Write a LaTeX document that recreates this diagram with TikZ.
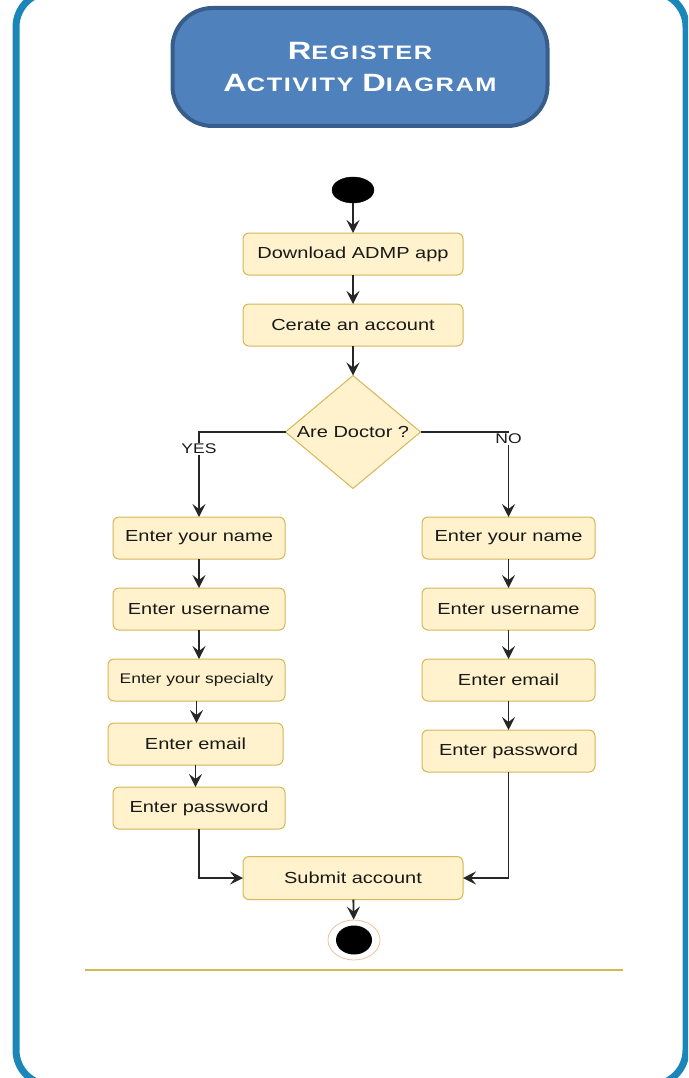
\documentclass[tikz,border=0pt]{standalone}
\usepackage{fontspec}
\setmainfont{Liberation Sans}[FakeStretch=1.25]
\newfontfamily\titlefont{Liberation Sans}[FakeStretch=1.3, LetterSpace=8]
\usetikzlibrary{shapes.geometric,arrows.meta}

\definecolor{framec}{HTML}{1B87B8}
\definecolor{titlefill}{HTML}{4F81BD}
\definecolor{titledraw}{HTML}{385D8A}
\definecolor{actfill}{HTML}{FFF2CC}
\definecolor{actdraw}{HTML}{D6B656}
\definecolor{ringc}{HTML}{F0C0A0}

\newcommand\capword[2]{{\fontsize{25}{32}\selectfont #1}{\fontsize{19.5}{32}\selectfont #2}}

\tikzset{
  act/.style={draw=actdraw, fill=actfill, rounded corners=6pt, line width=1pt,
    minimum width=172pt, minimum height=42pt, inner sep=0pt, outer sep=0pt,
    text=black!90, font=\fontsize{16}{19}\selectfont},
  decision/.style={draw=actdraw, fill=actfill, diamond, aspect=1.25, line width=1pt,
    minimum width=135pt, minimum height=113pt, inner sep=0pt, outer sep=0pt,
    text=black!90, font=\fontsize{16}{19}\selectfont},
  flow/.style={draw=black!85, line width=1.8pt,
    -{Stealth[length=13pt, width=13pt, inset=5pt]}},
  lbl/.style={fill=white, inner sep=1pt, text=black!90, font=\fontsize{14}{16}\selectfont}
}

\begin{document}
\begin{tikzpicture}[x=1pt, y=-1pt]
\useasboundingbox (0,0) rectangle (688,1078);
\clip (0,0) rectangle (688,1078);

% frame and title
\path[draw=framec, line width=7pt, rounded corners=35pt] (16,-8) rectangle (686,1085);
\node[draw=titledraw, fill=titlefill, line width=4pt, rounded corners=40pt,
  minimum width=375pt, minimum height=118pt, text=white, align=center,
  font=\titlefont\bfseries\fontsize{20}{32}\selectfont] (title) at (360,67)
  {\capword{R}{EGISTER}\\\capword{A}{CTIVITY}\hspace{9pt}\capword{D}{IAGRAM}};

% start and main line
\node[draw, ellipse, fill=black, minimum width=42pt, minimum height=26pt, inner sep=0pt] (start) at (353,190) {};
\node[act, minimum width=220pt] (dl) at (353,254) {Download ADMP app};
\node[act, minimum width=220pt] (ca) at (353,325) {Cerate an account};
\node[decision] (dec) at (353,432) {Are Doctor ?};

% doctor
\node[act] (ln1) at (199,538) {Enter your name};
\node[act] (lu1) at (199,609) {Enter username};
\node[act, minimum width=177pt, font=\fontsize{14}{16}\selectfont] (lsp) at (196.5,680) {Enter your specialty};
\node[act, minimum width=175pt] (lem) at (195.5,744) {Enter email};
\node[act] (lpw) at (199,808) {Enter password};

% not doctor
\node[act, minimum width=173pt] (rn1) at (508.5,538) {Enter your name};
\node[act, minimum width=173pt] (ru1) at (508.5,609) {Enter username};
\node[act, minimum width=173pt] (rem) at (508.5,680) {Enter email};
\node[act, minimum width=173pt] (rpw) at (508.5,751) {Enter password};

% end
\node[act, minimum width=220pt, minimum height=43pt] (sub) at (353,878) {Submit account};
\node[draw=ringc, ellipse, line width=0.8pt, fill=white, minimum width=52pt, minimum height=40pt, inner sep=0pt] (end) at (354,940) {};
\node[ellipse, fill=black, minimum width=36pt, minimum height=29pt, inner sep=0pt] (endin) at (end) {};

\path[draw=actdraw, line width=1.5pt] (85,970) -- (623,970);

\path[flow] (start) -- (dl);
\path[flow] (dl) -- (ca);
\path[flow] (ca) -- (dec);
\path[flow] (dec.west) -| node[lbl, pos=0.6] {YES} (ln1.north);
\path[flow] (dec.east) -| node[lbl, pos=0.54] {NO} (rn1.north);

\path[flow] (ln1) -- (lu1);
\path[flow] (lu1.south) -- (lu1.south |- lsp.north);
\path[flow] (lsp.south) -- (lsp.south |- lem.north);
\path[flow] (lem.south) -- (lem.south |- lpw.north);
\path[flow] (lpw.south) |- (sub.west);

\path[flow] (rn1) -- (ru1);
\path[flow] (ru1) -- (rem);
\path[flow] (rem) -- (rpw);
\path[flow] (rpw.south) |- (sub.east);

\path[flow] (sub) -- (end);
\end{tikzpicture}
\end{document}
